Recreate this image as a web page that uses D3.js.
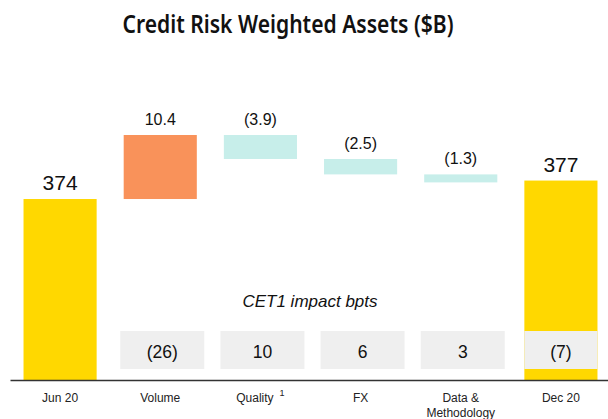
<!doctype html>
<html lang="en">
<head>
<meta charset="utf-8">
<title>Credit Risk Weighted Assets</title>
<script src="https://d3js.org/d3.v7.min.js"></script>
<style>
  body { margin: 0; background: #fff; }
  .lbl { font-family: "Liberation Sans", Arial, sans-serif; fill: #111; }
  .axis_cat text { font-family: "Liberation Sans", Arial, sans-serif; font-size: 12px; fill: #222; }
  .axis_cat path { stroke: #333; stroke-width: 1.5px; }
</style>
</head>
<body>
<svg id="main" width="608" height="419"></svg>
<script>
// categories along the bottom
const categories = ['Jun 20', 'Volume', 'Quality', 'FX', 'Data & Methodology', 'Dec 20'];
// 'total' bars start at the baseline, 'delta' bars float
const barTypes = ['total', 'delta', 'delta', 'delta', 'delta', 'total'];
// RWA values ($B)
const rwaValues = [374, 10.4, -3.9, -2.5, -1.3, 377];
const barLabels = ['374', '10.4', '(3.9)', '(2.5)', '(1.3)', '377'];
// CET1 impact in bpts (null = no box)
const cet1Impact = [null, -26, 10, 6, 3, -7];

const color_map = { total: '#FFD800', up: '#F9925A', down: '#C7EEEA' };

let svg = d3.select('#main');

let x_scale = d3.scaleBand().domain(categories).range([10, 611]).paddingInner(0.27).paddingOuter(0.135);
let y_scale = d3.scaleLinear().domain([344.6, 384.4]).range([380, 135]);

// waterfall rows
let running = 0;
let rows = categories.map((c, i) => {
    let v = rwaValues[i];
    let r;
    if (barTypes[i] === 'total') {
        r = { cat: c, lo: y_scale.domain()[0], hi: v, color: color_map.total };
        running = v;
    } else {
        let start = running;
        running = start + v;
        r = { cat: c, lo: Math.min(start, running), hi: Math.max(start, running), color: v >= 0 ? color_map.up : color_map.down };
    }
    r.type = barTypes[i];
    r.label = barLabels[i];
    r.cet = cet1Impact[i];
    return r;
});

// title
svg.append('text')
    .attr('x', 288).attr('y', 33)
    .attr('text-anchor', 'middle')
    .attr('font-family', '"Noto Sans", "Open Sans", sans-serif')
    .attr('font-weight', 600)
    .attr('font-size', 25)
    .attr('textLength', 331).attr('lengthAdjust', 'spacingAndGlyphs')
    .attr('fill', '#111')
    .text('Credit Risk Weighted Assets ($B)');

// bars
svg.append('g').selectAll('rect').data(rows).join('rect')
    .attr('x', d => x_scale(d.cat))
    .attr('width', x_scale.bandwidth())
    .attr('y', d => y_scale(d.hi))
    .attr('height', d => y_scale(d.lo) - y_scale(d.hi))
    .attr('fill', d => d.color);

// value labels
svg.append('g').selectAll('text').data(rows).join('text')
    .attr('class', 'lbl')
    .attr('x', d => x_scale(d.cat) + x_scale.bandwidth() / 2)
    .attr('y', d => y_scale(d.hi) - (d.type === 'total' ? 9 : 10))
    .attr('text-anchor', 'middle')
    .attr('font-size', d => d.type === 'total' ? 21 : 16)
    .text(d => d.label);

// CET1 section
svg.append('text')
    .attr('class', 'lbl')
    .attr('x', 310).attr('y', 307)
    .attr('text-anchor', 'middle')
    .attr('font-style', 'italic')
    .attr('font-size', 17)
    .text('CET1 impact bpts');

let cetRows = rows.filter(d => d.cet !== null);
let boxW = d => d.type === 'total' ? x_scale.bandwidth() : 84;
let boxX = d => x_scale(d.cat) + x_scale.bandwidth() / 2 - boxW(d) / 2 + (d.type === 'total' ? 0 : 2);

svg.append('g').selectAll('rect').data(cetRows).join('rect')
    .attr('x', boxX)
    .attr('width', boxW)
    .attr('y', 331)
    .attr('height', 38)
    .attr('fill', '#EFEFEF');

let fmt = v => v < 0 ? '(' + Math.abs(v) + ')' : String(v);
svg.append('g').selectAll('text').data(cetRows).join('text')
    .attr('class', 'lbl')
    .attr('x', d => boxX(d) + boxW(d) / 2)
    .attr('y', 358)
    .attr('text-anchor', 'middle')
    .attr('font-size', 17.5)
    .text(d => fmt(d.cet));

// category axis
let xAxis = svg.append('g')
    .attr('class', 'axis_cat')
    .attr('transform', 'translate(0,380)')
    .call(d3.axisBottom(x_scale).tickSize(0).tickSizeOuter(0).tickFormat(''));

xAxis.selectAll('.tick text').remove();
xAxis.selectAll('.tick').each(function(d) {
    let t = d3.select(this).append('text')
        .attr('y', 22)
        .attr('text-anchor', 'middle');
    if (d === 'Data & Methodology') {
        t.append('tspan').attr('x', 0).text('Data &');
        t.append('tspan').attr('x', 0).attr('dy', 15).text('Methodology');
    } else if (d === 'Quality') {
        t.append('tspan').text('Quality');
        t.append('tspan').attr('dx', 6).attr('dy', -6).attr('font-size', 9).text('1');
    } else {
        t.text(d);
    }
});
xAxis.attr('font-size', null).attr('font-family', null);
</script>
</body>
</html>
